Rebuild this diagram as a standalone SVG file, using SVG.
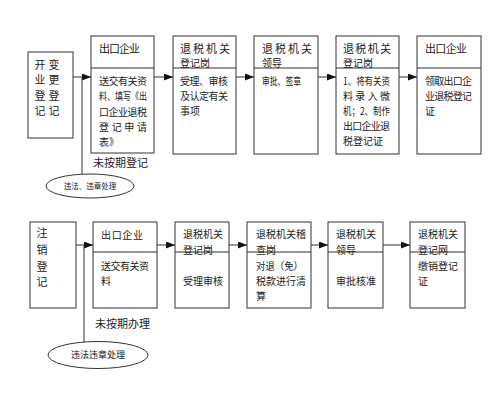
<svg xmlns="http://www.w3.org/2000/svg" width="500" height="404" viewBox="0 0 500 404">
<style>
.box{fill:#fff;stroke:#333;stroke-width:1}
.div{stroke:#333;stroke-width:1}
.ln{stroke:#333;stroke-width:1;fill:none}
.t{font-family:"Noto Sans CJK SC","Liberation Sans",sans-serif;font-size:10px;fill:#222}
.h{font-size:11px}
.s{font-size:11px}
</style>
<defs>
<marker id="ah" markerWidth="9" markerHeight="7" refX="9" refY="3.5" orient="auto" markerUnits="userSpaceOnUse">
<path d="M0,0 L9,3.5 L0,7 z" fill="#111"/>
</marker>
</defs>
<rect width="500" height="404" fill="#fff"/>
<g id="connectors">
<line class="ln" x1="73" y1="77" x2="91" y2="77" marker-end="url(#ah)"/>
<line class="ln" x1="154" y1="77" x2="173" y2="77" marker-end="url(#ah)"/>
<line class="ln" x1="236" y1="77" x2="254" y2="77" marker-end="url(#ah)"/>
<line class="ln" x1="318" y1="77" x2="336" y2="77" marker-end="url(#ah)"/>
<line class="ln" x1="399" y1="77" x2="417" y2="77" marker-end="url(#ah)"/>
<line class="ln" x1="82" y1="77" x2="82" y2="174"/>
<line class="ln" x1="76" y1="245" x2="93" y2="245" marker-end="url(#ah)"/>
<line class="ln" x1="157" y1="245" x2="175" y2="245" marker-end="url(#ah)"/>
<line class="ln" x1="229" y1="245" x2="247" y2="245" marker-end="url(#ah)"/>
<line class="ln" x1="311" y1="245" x2="328" y2="245" marker-end="url(#ah)"/>
<line class="ln" x1="383" y1="245" x2="410" y2="245" marker-end="url(#ah)"/>
<line class="ln" x1="84" y1="245" x2="84" y2="342"/>
</g>
<g id="n1">
<rect class="box" x="28" y="52" width="45" height="86"/>
<g class="t s" text-anchor="middle">
<text x="40" y="69">开</text><text x="40" y="84">业</text><text x="40" y="100">登</text><text x="40" y="115">记</text>
<text x="54" y="69">变</text><text x="54" y="84">更</text><text x="54" y="100">登</text><text x="54" y="115">记</text>
</g>
</g>
<g id="n2">
<rect class="box" x="91" y="36" width="63" height="117"/>
<line class="div" x1="91" y1="68" x2="154" y2="68"/>
<text class="t h" x="99" y="53" textLength="41" lengthAdjust="spacing">出口企业</text>
<text class="t" x="99" y="85" textLength="48" lengthAdjust="spacing">送交有关资</text>
<text class="t" x="99" y="100" textLength="48" lengthAdjust="spacingAndGlyphs">料、填写《出</text>
<text class="t" x="99" y="116" textLength="48" lengthAdjust="spacing">口企业退税</text>
<text class="t" x="99" y="131" textLength="48" lengthAdjust="spacing">登记申请</text>
<text class="t" x="99" y="146">表》</text>
</g>
<g id="n3">
<rect class="box" x="173" y="36" width="63" height="118"/>
<line class="div" x1="173" y1="68" x2="236" y2="68"/>
<text class="t h" x="180" y="53" textLength="50" lengthAdjust="spacing">退税机关</text>
<text class="t" x="180" y="67">登记岗</text>
<text class="t" x="180" y="85" textLength="48" lengthAdjust="spacing">受理、审核</text>
<text class="t" x="180" y="100" textLength="48" lengthAdjust="spacing">及认定有关</text>
<text class="t" x="180" y="115">事项</text>
</g>
<g id="n4">
<rect class="box" x="254" y="36" width="64" height="118"/>
<line class="div" x1="254" y1="68" x2="318" y2="68"/>
<text class="t h" x="262" y="53" textLength="50" lengthAdjust="spacing">退税机关</text>
<text class="t" x="262" y="67">领导</text>
<text class="t" x="262" y="85" textLength="39" lengthAdjust="spacingAndGlyphs">审批、签章</text>
</g>
<g id="n5">
<rect class="box" x="336" y="36" width="63" height="118"/>
<line class="div" x1="336" y1="68" x2="399" y2="68"/>
<text class="t h" x="343" y="53" textLength="48" lengthAdjust="spacing">退税机关</text>
<text class="t" x="343" y="67">登记岗</text>
<text class="t" x="343" y="85" textLength="47" lengthAdjust="spacingAndGlyphs">1、将有关资</text>
<text class="t" x="343" y="100" textLength="47" lengthAdjust="spacing">料录入微</text>
<text class="t" x="343" y="115" textLength="47" lengthAdjust="spacingAndGlyphs">机；2、制作</text>
<text class="t" x="343" y="130" textLength="47" lengthAdjust="spacing">出口企业退</text>
<text class="t" x="343" y="145">税登记证</text>
</g>
<g id="n6">
<rect class="box" x="417" y="36" width="64" height="118"/>
<line class="div" x1="417" y1="68" x2="481" y2="68"/>
<text class="t h" x="425" y="53" textLength="42" lengthAdjust="spacing">出口企业</text>
<text class="t" x="425" y="85" textLength="47" lengthAdjust="spacing">领取出口企</text>
<text class="t" x="425" y="100" textLength="47" lengthAdjust="spacing">业退税登记</text>
<text class="t" x="425" y="115">证</text>
</g>
<g id="late1">
<text class="t s" x="93" y="167">未按期登记</text>
</g>
<g id="e1">
<ellipse class="box" cx="90" cy="186" rx="44" ry="12"/>
<text class="t" x="90" y="189" text-anchor="middle" style="font-size:7.5px">违法、违章处理</text>
</g>
<g id="n7">
<rect class="box" x="30" y="222" width="46" height="86"/>
<g class="t s" text-anchor="middle">
<text x="42" y="237">注</text><text x="42" y="254">销</text><text x="42" y="271">登</text><text x="42" y="286">记</text>
</g>
</g>
<g id="n8">
<rect class="box" x="93" y="222" width="64" height="86"/>
<line class="div" x1="93" y1="252" x2="157" y2="252"/>
<text class="t" x="101" y="239" textLength="42" lengthAdjust="spacing">出口企业</text>
<text class="t" x="101" y="270" textLength="48" lengthAdjust="spacing">送交有关资</text>
<text class="t" x="101" y="285">料</text>
</g>
<g id="n9">
<rect class="box" x="175" y="222" width="54" height="86"/>
<line class="div" x1="175" y1="252" x2="229" y2="252"/>
<text class="t" x="183" y="238">退税机关</text>
<text class="t" x="183" y="254">登记岗</text>
<text class="t" x="183" y="285">受理审核</text>
</g>
<g id="n10">
<rect class="box" x="247" y="222" width="64" height="86"/>
<line class="div" x1="247" y1="252" x2="311" y2="252"/>
<text class="t" x="256" y="238">退税机关稽</text>
<text class="t" x="256" y="254">查岗</text>
<text class="t" x="256" y="270" textLength="47" lengthAdjust="spacingAndGlyphs">对退（免）</text>
<text class="t" x="256" y="285">税款进行清</text>
<text class="t" x="256" y="300">算</text>
</g>
<g id="n11">
<rect class="box" x="328" y="222" width="55" height="86"/>
<line class="div" x1="328" y1="252" x2="383" y2="252"/>
<text class="t" x="336" y="238">退税机关</text>
<text class="t" x="336" y="254">领导</text>
<text class="t" x="336" y="285">审批核准</text>
</g>
<g id="n12">
<rect class="box" x="410" y="222" width="55" height="86"/>
<line class="div" x1="410" y1="252" x2="465" y2="252"/>
<text class="t" x="418" y="238">退税机关</text>
<text class="t" x="418" y="254">登记网</text>
<text class="t" x="418" y="270">缴销登记</text>
<text class="t" x="418" y="285">证</text>
</g>
<g id="late2">
<text class="t s" x="95" y="328">未按期办理</text>
</g>
<g id="e2">
<ellipse class="box" cx="98" cy="355" rx="50" ry="13.5"/>
<text class="t" x="98" y="358" text-anchor="middle" style="font-size:9px">违法违章处理</text>
</g>
</svg>
